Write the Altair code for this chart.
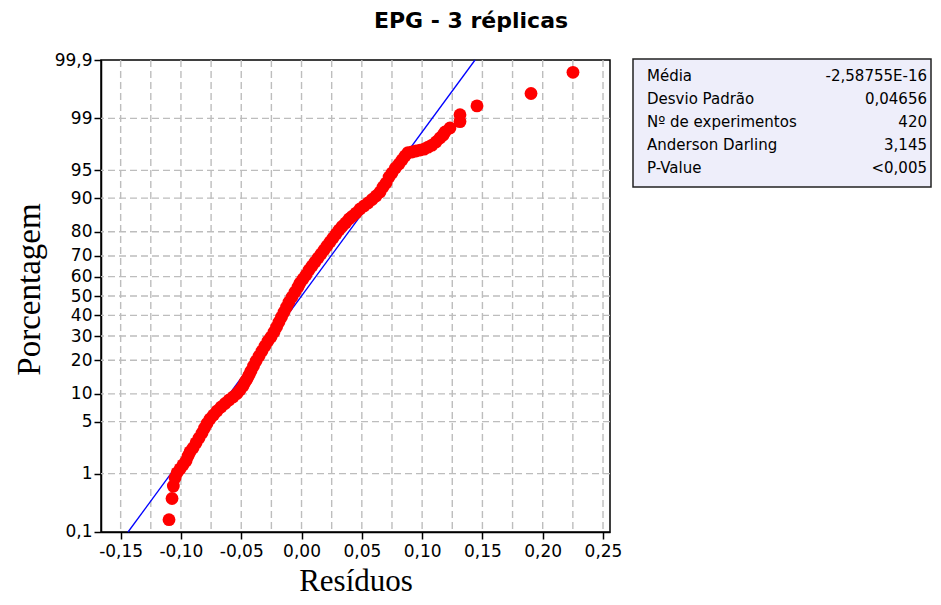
import altair as alt
import pandas as pd
from statistics import NormalDist

# ---- data ----
residuals = [
    -0.1099, -0.1074, -0.1063, -0.1049, -0.1032, -0.1007, -0.0983, -0.0958, -0.0941, -0.0925,
    -0.0900, -0.0875, -0.0850, -0.0825, -0.0804, -0.0784, -0.0759, -0.0730, -0.0701, -0.0667,
    -0.0634, -0.0601, -0.0568, -0.0535, -0.0510, -0.0485, -0.0468, -0.0452, -0.0435, -0.0419,
    -0.0398, -0.0377, -0.0352, -0.0328, -0.0303, -0.0278, -0.0253, -0.0228, -0.0207, -0.0187,
    -0.0166, -0.0145, -0.0124, -0.0104, -0.0079, -0.0054, -0.0029, -0.0012, 0.0012, 0.0037,
    0.0062, 0.0087, 0.0112, 0.0137, 0.0162, 0.0187, 0.0211, 0.0236, 0.0261, 0.0286,
    0.0311, 0.0336, 0.0365, 0.0394, 0.0419, 0.0452, 0.0485, 0.0518, 0.0551, 0.0585,
    0.0618, 0.0651, 0.0676, 0.0701, 0.0726, 0.0750, 0.0779, 0.0808, 0.0833, 0.0858,
    0.0883, 0.0916, 0.0949, 0.0983, 0.1016, 0.1049, 0.1082, 0.1115, 0.1148, 0.1173,
    0.1190, 0.1231, 0.1314, 0.1314, 0.1455, 0.1903, 0.2251,
]
percents = [
    0.17, 0.40, 0.64, 0.86, 1.03, 1.18, 1.35, 1.54, 1.81, 2.06,
    2.33, 2.72, 3.15, 3.65, 4.20, 4.76, 5.37, 5.96, 6.61, 7.31,
    7.97, 8.67, 9.31, 10.10, 10.93, 11.94, 13.01, 13.87, 15.06, 16.31,
    17.98, 19.74, 21.62, 23.58, 25.65, 27.80, 29.57, 31.88, 34.24, 36.69,
    39.17, 41.71, 44.27, 46.87, 49.48, 52.09, 54.68, 56.76, 58.80, 60.83,
    63.31, 65.27, 67.18, 69.04, 70.88, 72.64, 74.35, 76.02, 77.61, 79.15,
    80.62, 81.86, 83.03, 84.32, 85.10, 86.13, 87.26, 88.06, 88.83, 89.67,
    90.47, 91.33, 92.32, 93.04, 94.03, 94.63, 95.31, 95.80, 96.25, 96.66,
    96.98, 97.03, 97.12, 97.20, 97.28, 97.44, 97.59, 97.81, 98.07, 98.24,
    98.41, 98.61, 98.88, 99.12, 99.36, 99.60, 99.83,
]

mean_val = -2.58755e-16
sd_val = 0.04656

stat_labels = ["Média", "Desvio Padrão", "Nº de experimentos", "Anderson Darling", "P-Value"]
stat_values = ["-2,58755E-16", "0,04656", "420", "3,145", "<0,005"]

title_text = "EPG - 3 réplicas"
x_title = "Resíduos"
y_title = "Porcentagem"

x_ticks = [-0.15, -0.10, -0.05, 0.00, 0.05, 0.10, 0.15, 0.20, 0.25]
x_grid = [-0.15, -0.125, -0.10, -0.075, -0.05, -0.025, 0.0, 0.025, 0.05, 0.075,
          0.10, 0.125, 0.15, 0.175, 0.20, 0.225, 0.25]
y_ticks = [0.1, 1, 5, 10, 20, 30, 40, 50, 60, 70, 80, 90, 95, 99, 99.9]
y_grid = [1, 5, 10, 20, 30, 40, 50, 60, 70, 80, 90, 95, 99]
fit_ends = [0.1, 99.9]

# ---- chart ----
nd = NormalDist()
y_tick_z = [nd.inv_cdf(p / 100) for p in y_ticks]
z_lo, z_hi = nd.inv_cdf(0.001), nd.inv_cdf(0.999)

W, H = 509, 472
xscale = alt.Scale(domain=[-0.1663, 0.2558], nice=False, zero=False)
yscale = alt.Scale(domain=[z_lo - 1e-6, z_hi + 1e-6], nice=False, zero=False)

xaxis = alt.Axis(
    values=x_ticks, grid=False, title=x_title,
    labelExpr="replace(replace(format(datum.value, '.2f'), '.', ','), '\u2212', '-')",
    titleFont="Liberation Serif", titleFontSize=31, titleFontWeight="normal",
    titleY=58, titleBaseline="alphabetic",
)
yaxis = alt.Axis(
    values=y_tick_z, grid=False, title=y_title,
    labelExpr="replace(format(cumulativeNormal(datum.value) * 100, '.3~r'), '.', ',')",
    titleFont="Liberation Serif", titleFontSize=33, titleFontWeight="normal",
    titleX=-62, titleY=H / 2 - 7, titleBaseline="alphabetic", labelPadding=2,
)

pts_df = pd.DataFrame({"res": residuals, "pct": percents})
vgrid_df = pd.DataFrame({"g": x_grid})
hgrid_df = pd.DataFrame({"p": y_grid})
fit_df = pd.DataFrame({"p": fit_ends})

dash = [7, 4]
gcol = "#bdbdbd"

vgrid = alt.Chart(vgrid_df).mark_rule(color=gcol, strokeDash=dash, strokeWidth=1.4).encode(
    x=alt.X("g:Q", scale=xscale, axis=xaxis)
)
hgrid = alt.Chart(hgrid_df).transform_calculate(
    z="quantileNormal(datum.p / 100)"
).mark_rule(color=gcol, strokeDash=dash, strokeWidth=1.4).encode(
    y=alt.Y("z:Q", scale=yscale, axis=yaxis)
)

fit = alt.Chart(fit_df).transform_calculate(
    z="quantileNormal(datum.p / 100)"
).transform_calculate(
    r=f"{mean_val} + {sd_val} * datum.z"
).mark_line(color="#0000ff", strokeWidth=1.3).encode(
    x=alt.X("r:Q", scale=xscale, axis=xaxis),
    y=alt.Y("z:Q", scale=yscale, axis=yaxis),
)

pts = alt.Chart(pts_df).transform_calculate(
    z="quantileNormal(datum.pct / 100)"
).mark_circle(size=165, color="#ff0000", opacity=1).encode(
    x=alt.X("res:Q", scale=xscale, axis=xaxis),
    y=alt.Y("z:Q", scale=yscale, axis=yaxis),
)

one = pd.DataFrame({"k": [0]})
box = alt.Chart(one).mark_rect(fill="#eeeefa", stroke="#222222", strokeWidth=1.5).encode(
    x=alt.value(532), x2=alt.value(830), y=alt.value(-1), y2=alt.value(127)
)

stat_layers = []
for i, (lab, val) in enumerate(zip(stat_labels, stat_values)):
    yy = 15.5 + 23 * i
    stat_layers.append(
        alt.Chart(pd.DataFrame({"t": [lab]})).mark_text(
            align="left", baseline="middle", font="DejaVu Sans", fontSize=15, color="#000"
        ).encode(text="t:N", x=alt.value(546), y=alt.value(yy))
    )
    stat_layers.append(
        alt.Chart(pd.DataFrame({"t": [val]})).mark_text(
            align="right", baseline="middle", font="DejaVu Sans", fontSize=15, color="#000"
        ).encode(text="t:N", x=alt.value(826), y=alt.value(yy))
    )

title = alt.Chart(pd.DataFrame({"t": [title_text]})).mark_text(
    align="center", baseline="alphabetic", font="DejaVu Sans", fontSize=22,
    fontWeight="bold", color="#000"
).encode(text="t:N", x=alt.value(370), y=alt.value(-32))

chart = alt.layer(vgrid, hgrid, fit, pts, box, *stat_layers, title).properties(
    width=W, height=H,
    autosize=alt.AutoSizeParams(type="none"),
    padding={"left": 93, "top": 52, "right": 323, "bottom": 65},
    background="#ffffff",
).configure_view(
    stroke="#000000", strokeWidth=1.5
).configure_axis(
    labelFont="DejaVu Sans", labelFontSize=17, labelColor="#000",
    tickColor="#000", tickSize=7, tickWidth=1.5,
    domainColor="#000", domainWidth=1.5, titleColor="#000",
    labelPadding=4,
)

chart.save("out.html", embed_options={"renderer": "svg", "actions": False})
